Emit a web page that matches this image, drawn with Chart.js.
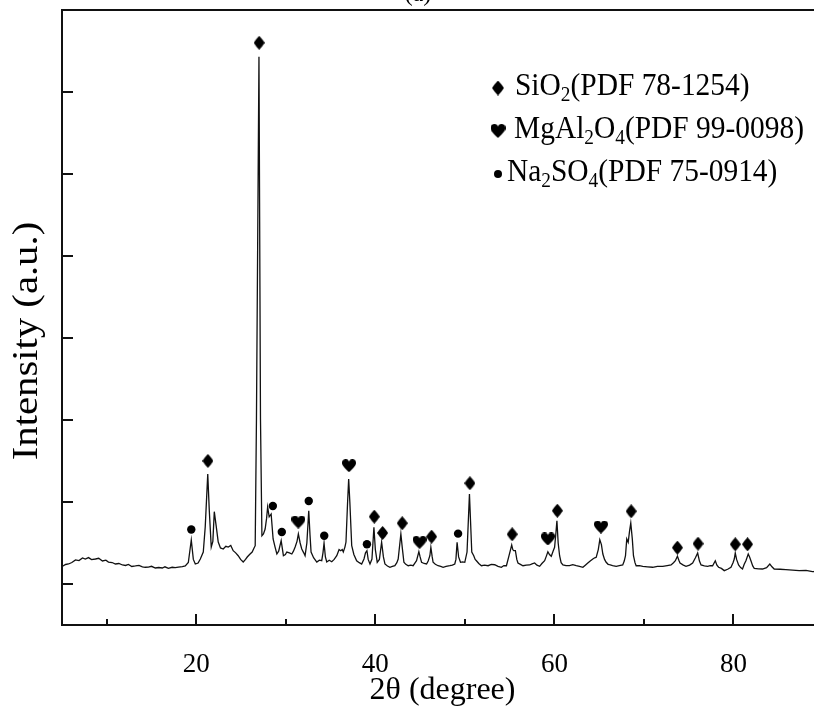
<!DOCTYPE html>
<html>
<head>
<meta charset="utf-8">
<script src="https://cdn.jsdelivr.net/npm/chart.js@4"></script>
<style>
  html, body { margin: 0; padding: 0; background: #fff; overflow: hidden; }
  #wrap { position: relative; width: 814px; height: 714px; overflow: hidden; }
  #xrd { position: absolute; left: 0; top: 0; }
</style>
</head>
<body>
<div id="wrap"><canvas id="xrd" width="830" height="714"></canvas></div>
<script>
// XRD pattern (2theta in degree, intensity in arbitrary units)
const patternTheta = [
  5.06, 5.4, 5.73, 6.1, 6.51, 6.9, 7.29, 7.6, 7.96, 8.3, 8.74, 9.1, 9.52, 9.9, 10.19, 10.6,
  10.97, 11.35, 11.75, 12.1, 12.42, 12.8, 13.2, 13.6, 13.98, 14.3, 14.65, 15.0, 15.43, 15.8,
  16.21, 16.5, 16.88, 17.3, 17.66, 18.0, 18.44, 18.77, 19.11, 19.44, 19.67, 19.89, 20.2, 20.45,
  20.78, 21.0, 21.28, 21.45, 21.67, 21.85, 22.01, 22.23, 22.45, 22.7, 23.01, 23.3, 23.57, 23.85,
  24.12, 24.4, 24.68, 24.95, 25.24, 25.5, 25.69, 25.95, 26.24, 26.45, 26.58, 26.72, 27.0, 27.17,
  27.33, 27.5, 27.69, 27.85, 27.97, 28.14, 28.36, 28.58, 28.8, 29.0, 29.2, 29.48, 29.73, 29.95,
  30.11, 30.4, 30.67, 30.85, 31.04, 31.25, 31.4, 31.6, 31.78, 32.0, 32.15, 32.35, 32.56, 32.7,
  32.82, 33.1, 33.46, 33.75, 34.01, 34.15, 34.27, 34.42, 34.57, 34.85, 35.13, 35.4, 35.69, 35.95,
  36.13, 36.3, 36.42, 36.6, 36.72, 36.9, 37.02, 37.15, 37.36, 37.6, 37.91, 38.2, 38.47, 38.73,
  38.9, 39.06, 39.2, 39.4, 39.62, 39.84, 40.0, 40.21, 40.45, 40.7, 40.9, 41.07, 41.35, 41.63,
  41.9, 42.18, 42.4, 42.55, 42.85, 43.0, 43.19, 43.4, 43.67, 43.95, 44.22, 44.45, 44.6, 44.86,
  45.0, 45.16, 45.45, 45.72, 45.9, 46.09, 46.2, 46.35, 46.45, 46.7, 47.01, 47.3, 47.57, 47.9,
  48.32, 48.6, 48.87, 49.0, 49.13, 49.3, 49.51, 49.75, 49.99, 50.24, 50.51, 50.77, 50.99, 51.15,
  51.29, 51.55, 51.85, 52.2, 52.59, 52.95, 53.33, 53.7, 54.08, 54.35, 54.64, 54.93, 55.23, 55.35,
  55.45, 55.64, 55.8, 55.93, 56.2, 56.49, 56.85, 57.23, 57.5, 57.79, 58.05, 58.35, 58.6, 58.91,
  59.1, 59.27, 59.45, 59.65, 59.85, 60.02, 60.15, 60.28, 60.42, 60.58, 60.75, 60.95, 61.3, 61.69,
  62.05, 62.44, 62.8, 63.18, 63.45, 63.73, 64.0, 64.29, 64.5, 64.67, 64.9, 65.07, 65.25, 65.41,
  65.6, 65.78, 66.0, 66.15, 66.5, 66.9, 67.25, 67.63, 67.8, 67.94, 68.08, 68.24, 68.4, 68.53,
  68.7, 68.83, 69.0, 69.13, 69.5, 69.87, 70.4, 70.98, 71.5, 72.1, 72.6, 73.03, 73.3, 73.51,
  73.74, 73.9, 74.03, 74.4, 74.7, 75.1, 75.44, 75.75, 76.0, 76.2, 76.38, 76.75, 77.11, 77.4,
  77.67, 77.97, 78.15, 78.34, 78.65, 78.97, 79.35, 79.72, 79.95, 80.09, 80.2, 80.35, 80.57, 80.8,
  81.01, 81.2, 81.39, 81.65, 81.8, 81.95, 82.15, 82.32, 82.8, 83.24, 83.7, 84.06, 84.3, 84.55,
  85.2, 85.85, 86.6, 87.34, 88.1, 88.82, 89.5, 90.0
];
const patternIntensity = [
  216, 238, 244, 262, 293, 286, 317, 305, 322, 298, 305, 314, 281, 290, 268, 262,
  244, 250, 232, 226, 238, 214, 220, 228, 210, 204, 207, 216, 195, 201,
  195, 210, 192, 204, 199, 207, 213, 220, 262, 537, 300, 244, 256, 305,
  390, 700, 1342, 900, 451, 520, 882, 700, 512, 440, 427, 460, 451, 470,
  406, 380, 345, 300, 268, 300, 329, 360, 390, 440, 467, 2013, 6429, 2013,
  589, 610, 671, 800, 939, 820, 854, 549, 450, 366, 400, 528, 345, 360,
  390, 380, 366, 400, 451, 520, 610, 500, 427, 380, 345, 500, 894, 600,
  390, 320, 268, 290, 284, 380, 500, 330, 268, 290, 272, 300, 345, 420,
  406, 420, 390, 450, 512, 1000, 1281, 1000, 467, 360, 284, 260, 244, 305,
  380, 406, 300, 244, 305, 692, 420, 265, 300, 509, 330, 244, 220, 204,
  215, 223, 260, 305, 610, 450, 265, 240, 223, 230, 223, 260, 284, 394,
  330, 265, 250, 244, 280, 345, 448, 330, 265, 240, 223, 215, 204, 214,
  223, 230, 244, 300, 509, 330, 265, 270, 265, 390, 1098, 390, 345, 300,
  284, 250, 223, 230, 223, 240, 235, 215, 204, 225, 223, 345, 476, 420,
  406, 406, 300, 256, 240, 223, 230, 232, 245, 256, 230, 216, 250, 284,
  340, 394, 360, 338, 400, 448, 600, 772, 500, 345, 260, 232, 225, 223,
  235, 223, 215, 204, 230, 256, 280, 305, 320, 326, 420, 540, 480, 366,
  300, 265, 240, 235, 225, 216, 225, 232, 280, 345, 549, 509, 650, 744,
  550, 345, 260, 223, 225, 216, 210, 204, 216, 216, 225, 232, 260, 284,
  338, 290, 256, 230, 216, 230, 256, 320, 378, 280, 232, 220, 216, 225,
  223, 284, 230, 204, 190, 163, 180, 204, 260, 305, 378, 300, 232, 200,
  183, 240, 284, 366, 330, 284, 220, 191, 185, 183, 200, 244, 210, 183,
  180, 175, 170, 163, 165, 150, 155, 150
];

// phase markers: position and height of each symbol
const quartzTheta = [21.3, 27.02, 39.88, 40.81, 43.0, 46.28, 50.56, 55.28, 60.33, 68.57, 73.74, 76.04, 80.2, 81.57];
const quartzHeight = [1501, 6600, 821, 622, 741, 577, 1229, 606, 894, 887, 443, 492, 484, 484];
const spinelTheta = [31.4, 37.06, 44.94, 59.27, 65.2];
const spinelHeight = [756, 1443, 509, 549, 695];
const sulfateTheta = [19.44, 28.55, 29.55, 32.56, 34.29, 39.06, 49.24];
const sulfateHeight = [665, 952, 634, 1013, 589, 484, 614];

const legendLabels = ['SiO_2(PDF 78-1254)', 'MgAl_2O_4(PDF 99-0098)', 'Na_2SO_4(PDF 75-0914)'];
const xTicks = [20, 40, 60, 80];
const xMinorTicks = [10, 30, 50, 70, 90];
const yTicks = [0, 1000, 2000, 3000, 4000, 5000, 6000];

const serif = 'Liberation Serif';

function makeDiamond(w, h) {
  const c = document.createElement('canvas');
  c.width = w; c.height = h;
  const g = c.getContext('2d');
  g.fillStyle = '#000';
  g.beginPath();
  g.moveTo(w / 2, 0);
  g.quadraticCurveTo(w * 0.8, h * 0.25, w, h / 2);
  g.quadraticCurveTo(w * 0.8, h * 0.75, w / 2, h);
  g.quadraticCurveTo(w * 0.2, h * 0.75, 0, h / 2);
  g.quadraticCurveTo(w * 0.2, h * 0.25, w / 2, 0);
  g.fill();
  return c;
}

function makeHeart(w, h) {
  const c = document.createElement('canvas');
  c.width = w; c.height = h;
  const g = c.getContext('2d');
  g.fillStyle = '#000';
  g.beginPath();
  g.moveTo(w / 2, h);
  g.bezierCurveTo(w * 0.15, h * 0.62, 0, h * 0.48, 0, h * 0.28);
  g.bezierCurveTo(0, h * 0.06, w * 0.16, 0, w * 0.27, 0);
  g.bezierCurveTo(w * 0.4, 0, w * 0.48, h * 0.1, w / 2, h * 0.2);
  g.bezierCurveTo(w * 0.52, h * 0.1, w * 0.6, 0, w * 0.73, 0);
  g.bezierCurveTo(w * 0.84, 0, w, h * 0.06, w, h * 0.28);
  g.bezierCurveTo(w, h * 0.48, w * 0.85, h * 0.62, w / 2, h);
  g.fill();
  return c;
}

const diamondImg = makeDiamond(11, 14);
const heartImg = makeHeart(14, 13);
const legendDiamond = makeDiamond(12, 15);
const legendHeart = makeHeart(15, 14);

const toPoints = (xs, ys) => xs.map((x, i) => ({ x, y: ys[i] }));

// text with one-character subscripts written as _2
function drawRich(ctx, str, x, y, size) {
  let cx = x;
  str.split(/(_\d)/).forEach(part => {
    if (!part) return;
    if (part[0] === '_') {
      ctx.font = `${Math.round(size * 0.66)}px "${serif}"`;
      ctx.fillText(part[1], cx, y + size * 0.2);
      cx += ctx.measureText(part[1]).width;
    } else {
      ctx.font = `${size}px "${serif}"`;
      ctx.fillText(part, cx, y);
      cx += ctx.measureText(part).width;
    }
  });
}

const framePlugin = {
  id: 'frame',
  afterDraw(chart) {
    const ctx = chart.ctx;
    const { left, right, top, bottom } = chart.chartArea;
    const xs = chart.scales.x, ys = chart.scales.y;
    ctx.save();
    ctx.strokeStyle = '#111';
    ctx.lineWidth = 2;
    ctx.strokeRect(left, top, right - left, bottom - top);

    // inward tick marks
    ctx.beginPath();
    xTicks.forEach(v => {
      const px = Math.round(xs.getPixelForValue(v));
      ctx.moveTo(px, bottom); ctx.lineTo(px, bottom - 11);
    });
    xMinorTicks.forEach(v => {
      const px = Math.round(xs.getPixelForValue(v));
      ctx.moveTo(px, bottom); ctx.lineTo(px, bottom - 6);
    });
    yTicks.forEach(v => {
      const py = Math.round(ys.getPixelForValue(v));
      ctx.moveTo(left, py); ctx.lineTo(left + 11, py);
    });
    ctx.stroke();

    ctx.fillStyle = '#000';

    // y axis title, a bit stretched along its length like the original
    ctx.save();
    ctx.translate(28, 341);
    ctx.rotate(-Math.PI / 2);
    ctx.scale(1.13, 1);
    ctx.font = `36px "${serif}"`;
    ctx.textAlign = 'center';
    ctx.textBaseline = 'middle';
    ctx.fillText('Intensity (a.u.)', 0, 0);
    ctx.restore();

    // panel label, cut by the top of the figure
    ctx.textAlign = 'center';
    ctx.textBaseline = 'alphabetic';
    ctx.font = `24px "${serif}"`;
    ctx.fillText('(a)', 418, 1);

    // legend
    const marks = [legendDiamond, legendHeart, null];
    const textX = [515, 514, 507];
    ctx.textAlign = 'left';
    legendLabels.forEach((label, i) => {
      const baseY = 95 + i * 43;
      const my = baseY - 7;
      if (marks[i]) {
        ctx.drawImage(marks[i], 498 - marks[i].width / 2, my - marks[i].height / 2);
      } else {
        ctx.beginPath();
        ctx.arc(498, my, 4, 0, Math.PI * 2);
        ctx.fill();
      }
      ctx.save();
      ctx.translate(textX[i], baseY);
      ctx.scale(0.92, 1);
      drawRich(ctx, label, 0, 0, 32);
      ctx.restore();
    });
    ctx.restore();
  }
};

new Chart(document.getElementById('xrd'), {
  type: 'line',
  data: {
    datasets: [
      {
        data: toPoints(patternTheta, patternIntensity),
        borderColor: '#111',
        borderWidth: 1.3,
        pointRadius: 0,
        tension: 0
      },
      {
        type: 'scatter',
        data: toPoints(quartzTheta, quartzHeight),
        pointStyle: diamondImg,
        pointRadius: 6
      },
      {
        type: 'scatter',
        data: toPoints(spinelTheta, spinelHeight),
        pointStyle: heartImg,
        pointRadius: 6
      },
      {
        type: 'scatter',
        data: toPoints(sulfateTheta, sulfateHeight),
        pointStyle: 'circle',
        pointRadius: 4.2,
        backgroundColor: '#000',
        borderColor: '#000',
        borderWidth: 0
      }
    ]
  },
  options: {
    responsive: false,
    animation: false,
    layout: { padding: { top: 10, right: 6, left: 0, bottom: 0 } },
    plugins: {
      legend: { display: false },
      tooltip: { enabled: false }
    },
    scales: {
      x: {
        type: 'linear',
        min: 5,
        max: 90,
        afterBuildTicks: axis => { axis.ticks = xTicks.map(v => ({ value: v })); },
        afterFit: axis => { axis.height = 89; },
        grid: { display: false, drawTicks: false },
        border: { display: false },
        ticks: {
          padding: 24,
          color: '#000',
          maxRotation: 0,
          autoSkip: false,
          font: { family: serif, size: 27 }
        },
        title: {
          display: true,
          text: '2θ (degree)',
          color: '#000',
          font: { family: serif, size: 32 },
          padding: { bottom: 4 }
        }
      },
      y: {
        min: -500,
        max: 7000,
        afterFit: axis => { axis.width = 62; },
        grid: { display: false, drawTicks: false },
        border: { display: false },
        ticks: { display: false },
        title: { display: false }
      }
    }
  },
  plugins: [framePlugin]
});
</script>
</body>
</html>
